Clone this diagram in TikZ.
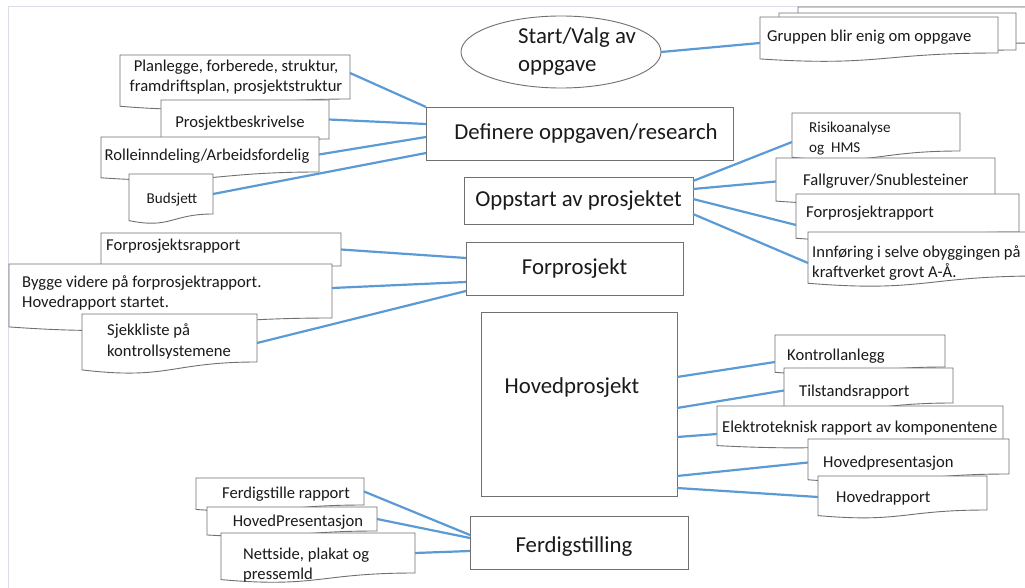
\documentclass[tikz,border=0pt]{standalone}
\usepackage{fontspec}
\setmainfont{Carlito}
\usepackage{xcolor}
\usepackage{tikz}
\usetikzlibrary{
  positioning, shapes.geometric, calc
}
\definecolor{edgeGray}{HTML}{707070}
\definecolor{linkBlue}{HTML}{5B9BD5}
\definecolor{frameGray}{HTML}{D9DEE7}
\definecolor{inkGray}{HTML}{1A1A1A}

\newcommand{\fontBig}{\fontsize{22.8}{28}\selectfont}
\newcommand{\fontMid}{\fontsize{16.6}{20.5}\selectfont}
\newcommand{\fontSmall}{\fontsize{15.1}{20}\selectfont}

\tikzset{
  docline/.style={draw=edgeGray, line width=0.9pt, fill=white}
}
% wavy bottom of a document box (body = the node)
\newcommand{\docframe}[1]{%
  \draw[docline] (#1.south east) -- (#1.north east) -- (#1.north west)
    -- ($(#1.south west)!-0.165!(#1.north west)$)
    .. controls ($(#1.south)!-0.38!(#1.north)$) and (#1.south) .. (#1.south east)
    -- cycle;}

\begin{document}
\begin{tikzpicture}[
  x=1pt, y=-1pt,
  every node/.style={text=inkGray},
  stagebox/.style={
    rectangle, draw=edgeGray, line width=0.9pt, fill=white,
    inner sep=0pt, outer sep=0pt, font=\fontBig
  },
  docbox/.style={rectangle, inner sep=0pt, outer sep=0pt},
  doctext/.style={font=\fontMid, align=left, inner sep=0pt},
  smalltext/.style={font=\fontSmall, align=left, inner sep=0pt},
  link/.style={draw=linkBlue, line width=2.2pt},
  framerule/.style={draw=frameGray, line width=1pt},
]
\fill[white] (0,0) rectangle (1025,588);
\useasboundingbox (0,0) rectangle (1025,588);
\clip (0,0) rectangle (1025,588);

% === SLIDE FRAME ===
\draw[framerule] (8,588) -- (8,7) -- (1025,7);

% === START ===
\node[ellipse, draw=edgeGray, line width=0.9pt, fill=white, inner sep=0pt,
  outer sep=0pt, minimum width=200pt, minimum height=72pt] (start) at (561,52) {};
\node[font=\fontBig, align=left, inner sep=0pt, anchor=west] (starttxt) at (518,52)
  {Start/Valg av\\oppgave};

% stacked documents
\node[docbox, minimum width=240pt, minimum height=36pt, anchor=north west] (gback) at (798,7) {};
\docframe{gback}
\node[docbox, minimum width=237pt, minimum height=37pt, anchor=north west] (gmid) at (779,13) {};
\docframe{gmid}
\node[docbox, minimum width=238pt, minimum height=36pt, anchor=north west] (gruppen) at (760,17) {};
\docframe{gruppen}
\node[doctext, anchor=west] (gruppentxt) at (767,37) {Gruppen blir enig om oppgave};

% === STAGES ===
\node[stagebox, minimum width=307pt, minimum height=53pt, anchor=north west] (def) at (426,107) {};
\node[font=\fontBig, inner sep=0pt] (deftxt) at (586,134) {Definere oppgaven/research};
\node[stagebox, minimum width=229pt, minimum height=47pt, anchor=north west] (oppstart) at (464,177)
  {Oppstart av prosjektet};
\node[stagebox, minimum width=217pt, minimum height=53pt, anchor=north west] (forp) at (466,242)
  {Forprosjekt};
\node[stagebox, minimum width=196pt, minimum height=184pt, anchor=north west] (hoved) at (481,312) {};
\node[font=\fontBig, inner sep=0pt] (hovedtxt) at (572,388) {Hovedprosjekt};
\node[stagebox, minimum width=218pt, minimum height=53pt, anchor=north west] (ferdig) at (470,516) {};
\node[font=\fontBig, inner sep=0pt] (ferdigtxt) at (574,547) {Ferdigstilling};

% === DEFINERE: documents on the left ===
\node[docbox, minimum width=230pt, minimum height=44pt, anchor=north west] (plan) at (120,55) {};
\docframe{plan}
\node[doctext, align=center] (plantxt) at (236,77)
  {Planlegge, forberede, struktur,\\framdriftsplan, prosjektstruktur};
\node[docbox, minimum width=168pt, minimum height=39pt, anchor=north west] (beskr) at (161,100) {};
\docframe{beskr}
\node[doctext] (beskrtxt) at (240,123) {Prosjektbeskrivelse};
\node[docbox, minimum width=218pt, minimum height=35pt, anchor=north west] (rolle) at (101,137) {};
\docframe{rolle}
\node[doctext] (rolletxt) at (207,156) {Rolleinndeling/Arbeidsfordelig};
\node[docbox, minimum width=84pt, minimum height=40pt, anchor=north west] (bud) at (129,174) {};
\docframe{bud}
\node[smalltext] (budtxt) at (172,200) {Budsjett};

% === OPPSTART: documents on the right ===
\node[docbox, minimum width=168pt, minimum height=38pt, anchor=north west] (risiko) at (792,113) {};
\docframe{risiko}
\node[smalltext, anchor=west] (risikotxt) at (809,139) {Risikoanalyse\\og\ \ HMS};
\node[docbox, minimum width=219pt, minimum height=37pt, anchor=north west] (fall) at (776,158) {};
\docframe{fall}
\node[doctext, anchor=west] (falltxt) at (803,181) {Fallgruver/Snublesteiner};
\node[docbox, minimum width=223pt, minimum height=38pt, anchor=north west] (forrap) at (796,194) {};
\docframe{forrap}
\node[doctext, anchor=west] (forraptxt) at (806,213) {Forprosjektrapport};
\node[docbox, minimum width=232pt, minimum height=44pt, anchor=north west] (innf) at (808,232) {};
\docframe{innf}
\node[doctext, anchor=west] (innftxt) at (812,263)
  {Innføring i selve obyggingen på\\kraftverket grovt A-Å.};

% === FORPROSJEKT: documents on the left ===
\node[docbox, minimum width=240pt, minimum height=33pt, anchor=north west] (fsr) at (101,233) {};
\docframe{fsr}
\node[doctext, anchor=west] (fsrtxt) at (106,246) {Forprosjektsrapport};
\node[docbox, minimum width=323pt, minimum height=54pt, anchor=north west] (bygge) at (9,264) {};
\docframe{bygge}
\node[doctext, anchor=west] (byggetxt) at (22,293)
  {Bygge videre på forprosjektrapport.\\Hovedrapport startet.};
\node[docbox, minimum width=175pt, minimum height=48pt, anchor=north west] (sjekk) at (82,314) {};
\docframe{sjekk}
\node[doctext, anchor=west] (sjekktxt) at (107,341.5) {Sjekkliste på\\kontrollsystemene};

% === HOVEDPROSJEKT: documents on the right ===
\node[docbox, minimum width=170pt, minimum height=32pt, anchor=north west] (kontroll) at (775,335) {};
\docframe{kontroll}
\node[doctext, anchor=west] (kontrolltxt) at (787,356) {Kontrollanlegg};
\node[docbox, minimum width=169pt, minimum height=35pt, anchor=north west] (tilstand) at (784,368) {};
\docframe{tilstand}
\node[doctext, anchor=west] (tilstandtxt) at (799,392) {Tilstandsrapport};
\node[docbox, minimum width=286pt, minimum height=34pt, anchor=north west] (elektro) at (717,406) {};
\docframe{elektro}
\node[doctext, anchor=west] (elektrotxt) at (722,428) {Elektroteknisk rapport av komponentene};
\node[docbox, minimum width=201pt, minimum height=35pt, anchor=north west] (hpresr) at (808,439) {};
\docframe{hpresr}
\node[doctext, anchor=west] (hpresrtxt) at (823,463) {Hovedpresentasjon};
\node[docbox, minimum width=169pt, minimum height=34pt, anchor=north west] (hrap) at (818,476) {};
\docframe{hrap}
\node[doctext, anchor=west] (hraptxt) at (836,498) {Hovedrapport};

% === FERDIGSTILLING: documents on the left ===
\node[docbox, minimum width=168pt, minimum height=27pt, anchor=north west] (fsrap) at (196,478) {};
\docframe{fsrap}
\node[doctext] (fsraptxt) at (286,494) {Ferdigstille rapport};
\node[docbox, minimum width=170pt, minimum height=24pt, anchor=north west] (hpresl) at (207,507) {};
\docframe{hpresl}
\node[doctext] (hpresltxt) at (298,522) {HovedPresentasjon};
\node[docbox, minimum width=194pt, minimum height=40pt, anchor=north west] (nett) at (221,533) {};
\docframe{nett}
\node[doctext, anchor=west] (netttxt) at (243,565) {Nettside, plakat og\\pressemld};

% === CONNECTORS ===
\draw[link] (start.east) -- ([yshift=-8pt]gruppen.west);

\draw[link] ([yshift=4pt]plan.east) -- (def.north west);
\draw[link] (beskr.east) -- ([yshift=-17pt]def.north west);
\draw[link] (rolle.east) -- ([yshift=-30pt]def.north west);
\draw[link] (bud.east) -- ([yshift=-46pt]def.north west);

\draw[link] ([yshift=-4pt]oppstart.north east) -- ([yshift=-10pt]risiko.west);
\draw[link] ([yshift=-12pt]oppstart.north east) -- ([yshift=-5pt]fall.west);
\draw[link] ([yshift=-22pt]oppstart.north east) -- ([yshift=-12pt]forrap.west);
\draw[link] ([yshift=-37pt]oppstart.north east) -- ([yshift=-9pt]innf.west);

\draw[link] (fsr.east) -- ([yshift=-16pt]forp.north west);
\draw[link] ([yshift=3pt]bygge.east) -- ([yshift=-40pt]forp.north west);
\draw[link] ([yshift=-5pt]sjekk.east) -- ([yshift=-49pt]forp.north west);

\draw[link] ([yshift=-65pt]hoved.north east) -- ([yshift=-11pt]kontroll.west);
\draw[link] ([yshift=-96pt]hoved.north east) -- ([yshift=-5pt]tilstand.west);
\draw[link] ([yshift=-125pt]hoved.north east) -- ([yshift=-11pt]elektro.west);
\draw[link] ([yshift=-164pt]hoved.north east) -- ([yshift=-6pt]hpresr.west);
\draw[link] ([yshift=-176pt]hoved.north east) -- ([yshift=-4pt]hrap.west);

\draw[link] (fsrap.east) -- ([yshift=-19pt]ferdig.north west);
\draw[link] (hpresl.east) -- ([yshift=-22pt]ferdig.north west);
\draw[link] (nett.east) -- ([yshift=-35pt]ferdig.north west);

\end{tikzpicture}
\end{document}
